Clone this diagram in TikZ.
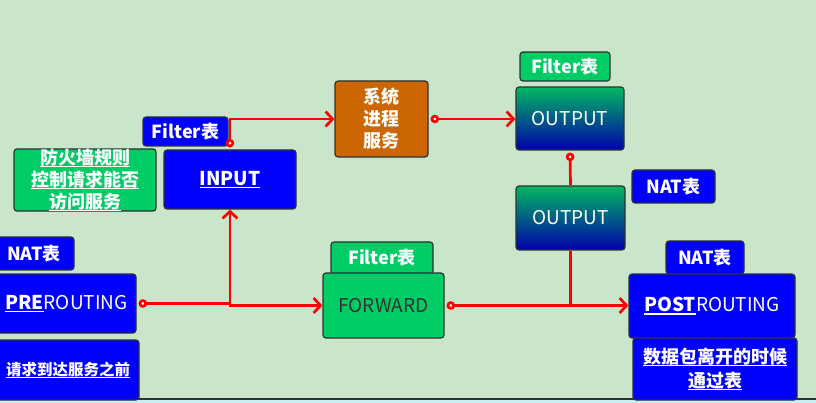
\documentclass[tikz,border=0pt]{standalone}
\usepackage{fontspec}
\setmainfont{Noto Sans CJK SC}
\usetikzlibrary{positioning,arrows.meta}
\definecolor{bgGreen}{RGB}{201,230,202}
\definecolor{stripBlue}{RGB}{200,238,242}
\definecolor{boxBlue}{RGB}{0,0,255}
\definecolor{boxGreen}{RGB}{0,204,102}
\definecolor{boxOrange}{RGB}{204,102,0}
\definecolor{outTop}{RGB}{0,184,96}
\definecolor{outBot}{RGB}{0,0,172}
\definecolor{edgeGray}{RGB}{45,50,50}
\definecolor{lineRed}{RGB}{255,0,0}
\definecolor{textGray}{RGB}{50,50,50}

\newcommand\ulin[1]{\setbox0\hbox{#1}\rlap{\rule[-2.6pt]{\wd0}{1.3pt}}\box0}

\begin{document}
\begin{tikzpicture}[x=1pt, y=-1pt,
        every node/.style ={draw=edgeGray, line width=1.2pt, rounded corners=3pt, rectangle,
                            inner sep=0pt, align=center, text=white,
                            font=\fontsize{19}{22}\selectfont},
        Tag/.style       ={font=\bfseries\fontsize{18}{22}\selectfont},
        Note/.style      ={font=\bfseries\fontsize{18}{22}\selectfont},
        BlueBox/.style   ={fill=boxBlue},
        GreenBox/.style  ={fill=boxGreen},
        OutBox/.style    ={top color=outTop, bottom color=outBot},
        link/.style      ={draw=lineRed, line width=2.7pt},
        dot/.style       ={{Circle[open, fill=white, length=8.5pt, width=8.5pt]}-, shorten <=2pt},
        arrow/.style     ={-{Straight Barb[length=7pt, width=15pt]}},
        dotarr/.style    ={{Circle[open, fill=white, length=8.5pt, width=8.5pt]}-{Straight Barb[length=7pt, width=15pt]}, shorten <=2pt},
    ]

% Background
\useasboundingbox (0,0) rectangle (816,403);
\fill[bgGreen] (0,0) rectangle (816,399);
\fill[stripBlue] (0,399) rectangle (816,403);
\draw[edgeGray, line width=1.2pt] (0,399) -- (816,399);

% Nodes

\node (filtIn) [BlueBox, Tag, minimum width=85pt, minimum height=29pt] at (185.5,131.5) {Filter表};
\node (rule) [GreenBox, Note, minimum width=142pt, minimum height=60pt] at (85,180)
      {\ulin{防火墙规则}\\\ulin{控制请求能否}\\\ulin{访问服务}};
\node (input) [BlueBox, font=\bfseries\fontsize{19}{22}\selectfont, minimum width=132pt, minimum height=59pt] at (230,179.5) {\ulin{INPUT}};

\node (natPre) [BlueBox, Tag, minimum width=80pt, minimum height=33pt] at (34,253.5) {NAT表};
\node (pre) [BlueBox, minimum width=139pt, minimum height=59pt] at (66.5,303.5) {{\bfseries\ulin{PRE}}ROUTING};
\node (preNote) [BlueBox, font=\bfseries\fontsize{15.5}{20}\selectfont, minimum width=142pt, minimum height=60pt] at (68,370) {\ulin{请求到达服务之前}};

\node (sys) [fill=boxOrange, Note, minimum width=93pt, minimum height=76pt] at (381.5,119) {系统\\进程\\服务};

\node (filtOut) [GreenBox, Tag, minimum width=90pt, minimum height=29pt] at (565,66.5) {Filter表};
\node (out1) [OutBox, minimum width=108pt, minimum height=63pt] at (570,118.5) {OUTPUT};
\node (out2) [OutBox, minimum width=109pt, minimum height=64pt] at (570.5,218) {OUTPUT};
\node (natOut) [BlueBox, Tag, minimum width=83pt, minimum height=33pt] at (673.5,186.5) {NAT表};

\node (filtFwd) [GreenBox, Tag, minimum width=102pt, minimum height=32pt] at (382,258) {Filter表};
\node (fwd) [GreenBox, text=textGray, minimum width=121pt, minimum height=65pt] at (383.5,305.5) {FORWARD};

\node (natPost) [BlueBox, Tag, minimum width=78pt, minimum height=33pt] at (705,257.5) {NAT表};
\node (post) [BlueBox, minimum width=166pt, minimum height=64pt] at (712,306) {{\bfseries\ulin{POST}}ROUTING};
\node (postNote) [BlueBox, font=\bfseries\fontsize{18}{24}\selectfont, minimum width=164pt, minimum height=62pt] at (715,369)
      {\ulin{数据包离开的时候}\\\ulin{通过表}};

% Arrows
\draw[link, dotarr] (pre.east) -| (input.south);
\draw[link, arrow] (pre.east -| input.south) |- (fwd.west);
\draw[link, dotarr] (input.north) |- (sys.west);
\draw[link, dotarr] (sys.east) -- (sys.east -| out1.west);
\draw[link, dot] (out1.south) -- (out2.north);
\draw[link, dotarr] (fwd.east) -- (fwd.east -| post.west);
\draw[link] (out2.south) -- (out2.south |- fwd.east);

\end{tikzpicture}
\end{document}
